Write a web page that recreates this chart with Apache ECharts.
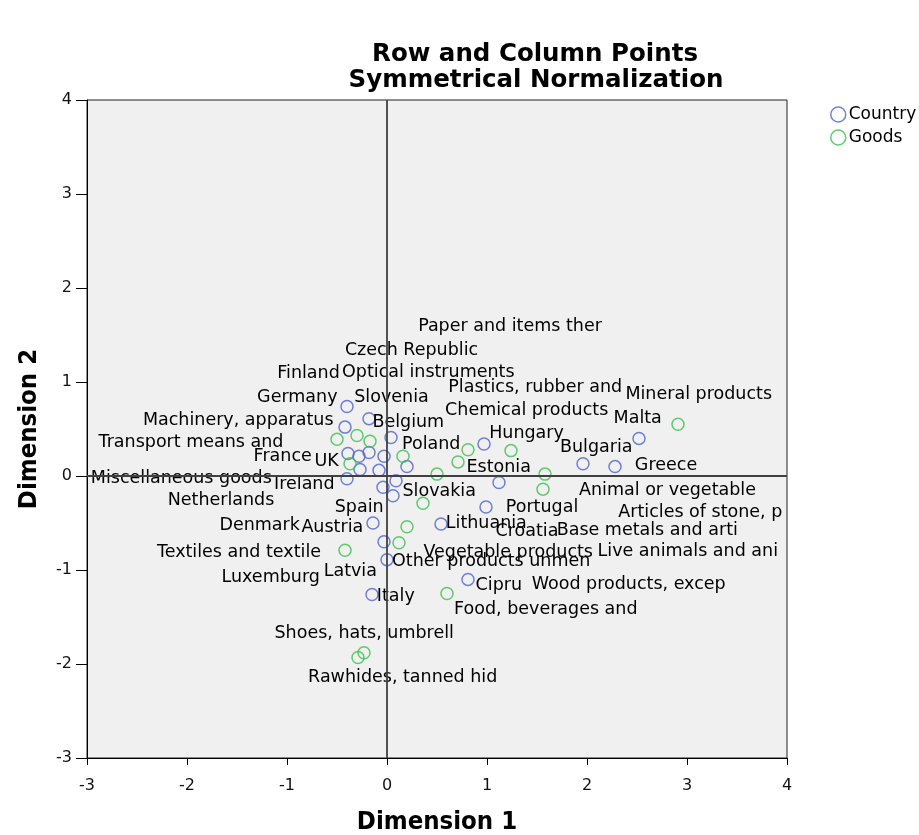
<!DOCTYPE html>
<html>
<head>
<meta charset="utf-8">
<script src="https://cdn.jsdelivr.net/npm/echarts@6/dist/echarts.min.js"></script>
<style>
html,body{margin:0;padding:0;background:#fff;}
#chart{width:919px;height:835px;}
</style>
</head>
<body>
<div id="chart"></div>
<script>
// ---- data ----
const countryNames = ["Germany","Slovenia","Finland","Belgium","Hungary","France","UK","Czech Republic","","Poland","Netherlands","Spain","Bulgaria","Greece","Ireland","Croatia","Denmark","Slovakia","Estonia","Portugal","Malta","Austria","Lithuania","Luxemburg","Latvia","Italy","Cipru"];
const countryDim1 = [-0.40,-0.18,-0.42,0.04,0.97,-0.39,-0.28,-0.18,-0.03,0.20,-0.27,-0.08,1.96,2.28,-0.40,0.09,-0.04,0.06,1.12,0.99,2.52,-0.14,0.54,-0.03,0.00,-0.15,0.81];
const countryDim2 = [0.74,0.61,0.52,0.41,0.34,0.24,0.21,0.25,0.21,0.10,0.07,0.06,0.13,0.10,-0.03,-0.05,-0.12,-0.21,-0.07,-0.33,0.40,-0.50,-0.51,-0.70,-0.89,-1.26,-1.10];

const goodsNames = ["Machinery, apparatus","Optical instruments","Paper and items ther","Plastics, rubber and","Chemical products","Live animals and ani","Wood products, excep","Transport means and","Miscellaneous goods","Animal or vegetable","Articles of stone, p","Base metals and arti","Mineral products","Vegetable products","Other products unmen","Textiles and textile","Food, beverages and","Rawhides, tanned hid","Shoes, hats, umbrell"];
const goodsDim1 = [-0.50,-0.30,-0.17,0.16,0.81,1.24,0.71,-0.37,0.50,1.58,1.56,0.36,2.91,0.20,0.12,-0.42,0.60,-0.29,-0.23];
const goodsDim2 = [0.39,0.43,0.37,0.21,0.28,0.27,0.15,0.13,0.02,0.02,-0.14,-0.29,0.55,-0.54,-0.71,-0.79,-1.25,-1.93,-1.88];

const axisTicks = [-3,-2,-1,0,1,2,3,4];

// ---- label placement (pixel offsets of label centre from its point) ----
const countryLabelOffsets = [[-49.7,-8.7],[22.5,-21],[-36.5,-53.7],[17.3,-15.3],[42.5,-11],[-65.3,2.7],[-32.3,5.3],[42.5,-101.7],[0,0],[24.2,-21.7],[-139,30.7],[-19.8,37],[13.3,-16.3],[51,-0.7],[-42.7,6],[131,51],[-123.3,37.7],[46.2,-4],[-0.3,-15.3],[56,0.7],[-1.3,-20.3],[-40.7,4.7],[45.3,0],[-113.3,35.7],[-36.7,11.7],[23.8,2],[30.8,5.7]];
const goodsLabelOffsets = [[-98.8,-19.3],[71.3,-63],[140,-115],[132.2,-68.7],[58.7,-39.3],[176.8,101.3],[170.7,122.7],[-159,-21.3],[-255.7,4],[122.5,16],[157.3,23.7],[224.3,26.7],[20.7,-30.3],[101.2,25.3],[92.2,18.3],[-106,2],[98.8,16],[44.7,19.7],[0.2,-19.3]];

const BLUE = '#4f63c9';
const GREEN = '#3cbf4c';
const FONT = '"DejaVu Sans", "Liberation Sans", Arial, sans-serif';

function buildData(names, xs, ys, offs) {
  return names.map((n, i) => ({
    name: n,
    value: [xs[i], ys[i]],
    label: {
      show: n !== '',
      formatter: n,
      position: ['50%', '50%'],
      align: 'center',
      verticalAlign: 'middle',
      offset: offs[i],
      color: '#000',
      opacity: 1,
      fontFamily: FONT,
      fontSize: 17.5,
      textBorderWidth: 0
    }
  }));
}

const chart = echarts.init(document.getElementById('chart'), null, {renderer: 'canvas'});
const axisCommon = {
  type: 'value', min: -3, max: 4, interval: 1,
  axisLine: {show: true, onZero: false, lineStyle: {color: '#000', width: 1}},
  splitLine: {show: false},
  axisLabel: {color: '#111', fontFamily: FONT, fontSize: 16},
  nameTextStyle: {color: '#000', fontFamily: '"DejaVu Sans Condensed", "DejaVu Sans", sans-serif', fontWeight: 'bold', fontSize: 25.5}
};
chart.setOption({
  animation: false,
  backgroundColor: '#fff',
  title: [
    {text: 'Row and Column Points', left: 530, top: 37, textAlign: 'center',
     textStyle: {fontFamily: FONT, fontWeight: 'bold', fontSize: 24.5, color: '#000'}},
    {text: 'Symmetrical Normalization', left: 531, top: 63, textAlign: 'center',
     textStyle: {fontFamily: FONT, fontWeight: 'bold', fontSize: 24.5, color: '#000'}}
  ],
  legend: {
    orient: 'vertical', left: 825, top: 101, itemGap: 6, itemWidth: 15, itemHeight: 15,
    icon: 'circle',
    textStyle: {fontFamily: FONT, fontSize: 17, color: '#000', padding: [0,0,0,-2]},
    data: [
      {name: 'Country', itemStyle: {color: 'rgba(0,0,0,0)', borderColor: BLUE, borderWidth: 1.5}},
      {name: 'Goods', itemStyle: {color: 'rgba(0,0,0,0)', borderColor: GREEN, borderWidth: 1.5}}
    ]
  },
  grid: {left: 87, right: 132, top: 100, bottom: 77, outerBoundsMode: 'none', containLabel: false,
         show: true, backgroundColor: '#f0f0f0', borderColor: '#222', borderWidth: 1},
  xAxis: Object.assign({}, axisCommon, {
    name: 'Dimension 1', nameLocation: 'middle', nameGap: 51,
    axisTick: {show: true, inside: false, length: 7, lineStyle: {color: '#000'}},
    axisLabel: Object.assign({}, axisCommon.axisLabel, {margin: 20})
  }),
  yAxis: Object.assign({}, axisCommon, {
    name: 'Dimension 2', nameLocation: 'middle', nameGap: 45,
    axisTick: {show: true, inside: false, length: 11, lineStyle: {color: '#000'}},
    axisLabel: Object.assign({}, axisCommon.axisLabel, {margin: 15})
  }),
  series: [
    {
      type: 'scatter', name: 'refLines', data: [], z: 1, silent: true,
      markLine: {
        silent: true, symbol: ['none','none'], animation: false,
        label: {show: false},
        lineStyle: {color: '#404040', width: 1.8, type: 'solid'},
        data: [{xAxis: 0}, {yAxis: 0}]
      }
    },
    {
      type: 'scatter', name: 'Country', z: 3,
      symbol: 'circle', symbolSize: 12,
      itemStyle: {color: 'rgba(0,0,0,0)', borderColor: BLUE, borderWidth: 1.5},
      data: buildData(countryNames, countryDim1, countryDim2, countryLabelOffsets)
    },
    {
      type: 'scatter', name: 'Goods', z: 3,
      symbol: 'circle', symbolSize: 12,
      itemStyle: {color: 'rgba(0,0,0,0)', borderColor: GREEN, borderWidth: 1.5},
      data: buildData(goodsNames, goodsDim1, goodsDim2, goodsLabelOffsets)
    }
  ]
});
</script>
</body>
</html>
